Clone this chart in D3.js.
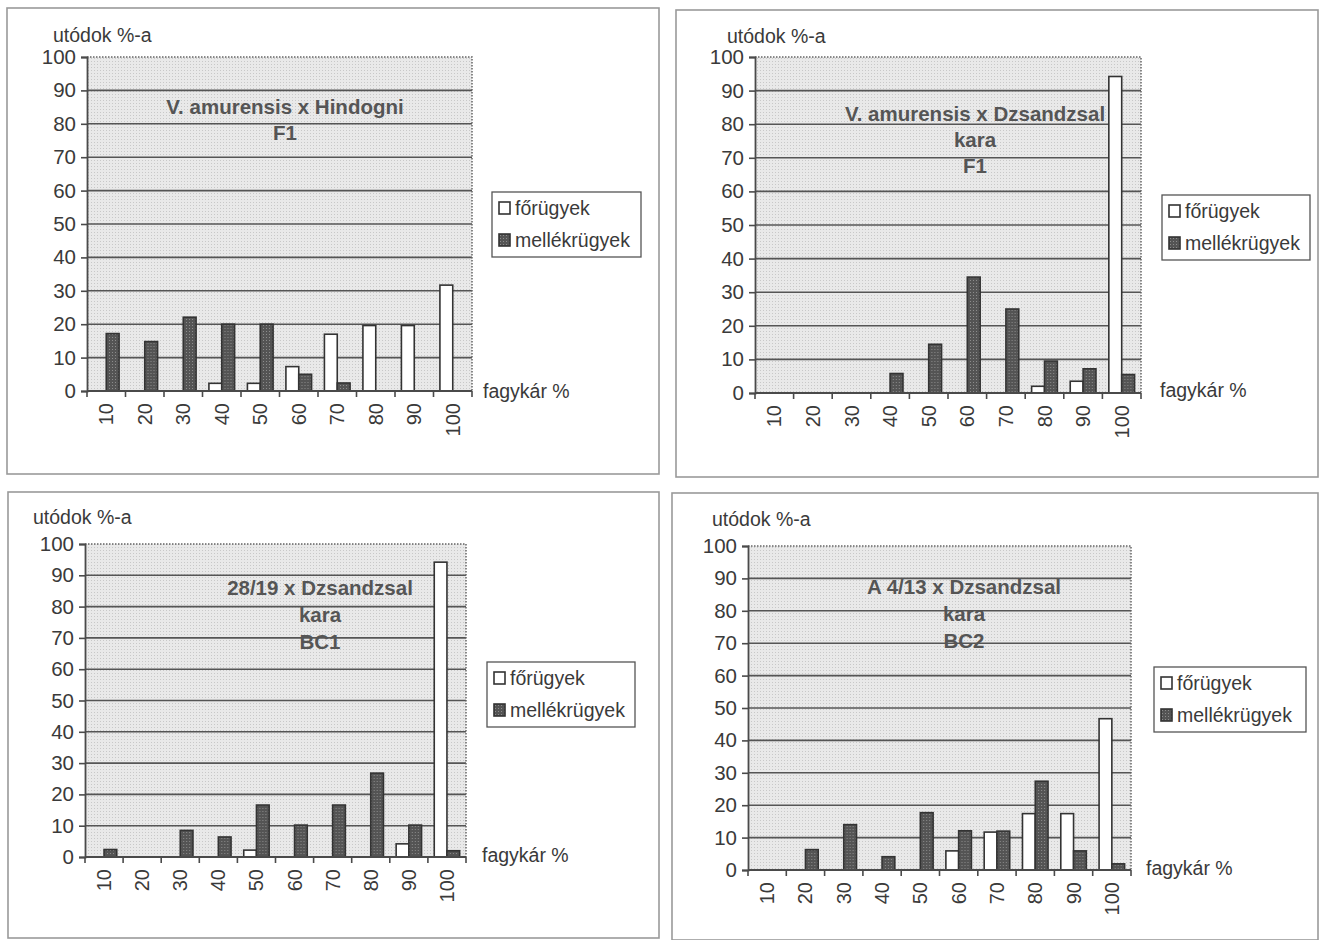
<!DOCTYPE html>
<html>
<head>
<meta charset="utf-8">
<script src="https://cdn.jsdelivr.net/npm/d3@7"></script>
<style>
  html, body { margin: 0; padding: 0; background: #fff; }
  svg { display: block; }
  text { font-family: "Liberation Sans", Arial, sans-serif; }
</style>
</head>
<body>
<svg id="chart" width="1331" height="940"></svg>
<script>
// ---------- DATA ----------
const categories = ["10", "20", "30", "40", "50", "60", "70", "80", "90", "100"];
const seriesNames = ["főrügyek", "mellékrügyek"];
const yTickValues = [0, 10, 20, 30, 40, 50, 60, 70, 80, 90, 100];
const yAxisTitle = "utódok %-a";
const xAxisTitle = "fagykár %";

const title1 = ["V. amurensis x Hindogni", "F1"];
const foP1 = [0, 0, 0, 2.3, 2.3, 7.3, 17, 19.6, 19.6, 31.7];
const melP1 = [17.2, 14.8, 22.1, 20, 20, 5, 2.4, 0, 0, 0];

const title2 = ["V. amurensis x Dzsandzsal", "kara", "F1"];
const foP2 = [0, 0, 0, 0, 0, 0, 0, 2, 3.5, 94.2];
const melP2 = [0, 0, 0, 5.8, 14.5, 34.5, 25, 9.5, 7.2, 5.5];

const title3 = ["28/19 x Dzsandzsal", "kara", "BC1"];
const foP3 = [0, 0, 0, 0, 2.2, 0, 0, 0, 4.2, 94.2];
const melP3 = [2.4, 0, 8.5, 6.4, 16.6, 10.2, 16.6, 26.8, 10.2, 2];

const title4 = ["A 4/13 x Dzsandzsal", "kara", "BC2"];
const foP4 = [0, 0, 0, 0, 0, 5.9, 11.7, 17.4, 17.4, 46.7];
const melP4 = [0, 6.3, 14, 4.1, 17.7, 12.1, 12, 27.4, 5.9, 1.9];

// ---------- LAYOUT (positions only) ----------
const panels = [
  { title: title1, fo: foP1, mel: melP1,
    frame: [7, 8, 659, 474], plot: [87, 57, 472, 391],
    yTitle: [53, 35], legend: [492, 192, 149, 65], xTitle: [483, 391], titleX: 285, titleY: 107, titleGap: 26 },
  { title: title2, fo: foP2, mel: melP2,
    frame: [676, 10, 1318, 477], plot: [755, 57, 1141, 393],
    yTitle: [727, 36], legend: [1162, 195, 148, 65], xTitle: [1160, 390], titleX: 975, titleY: 114, titleGap: 26 },
  { title: title3, fo: foP3, mel: melP3,
    frame: [8, 492, 659, 938], plot: [85, 544, 466, 857],
    yTitle: [33, 517], legend: [487, 662, 148, 65], xTitle: [482, 855], titleX: 320, titleY: 588, titleGap: 27 },
  { title: title4, fo: foP4, mel: melP4,
    frame: [672, 493, 1318, 940], plot: [748, 546, 1131, 870],
    yTitle: [712, 519], legend: [1154, 667, 152, 65], xTitle: [1146, 868], titleX: 964, titleY: 587, titleGap: 27 }
];

const FONT = 20;
const TEXT = "#3a3a3a";
const AX = "#4a4a4a";

const svg = d3.select("#chart");
const defs = svg.append("defs");

// textured plot background
const pBg = defs.append("pattern").attr("id", "bgdots").attr("patternUnits", "userSpaceOnUse")
  .attr("width", 3).attr("height", 3);
pBg.append("rect").attr("width", 3).attr("height", 3).attr("fill", "#e9e9e9");
pBg.append("rect").attr("x", 1).attr("y", 1).attr("width", 1).attr("height", 1).attr("fill", "#c8c8c8");

// textured dark bars
const pDark = defs.append("pattern").attr("id", "darkdots").attr("patternUnits", "userSpaceOnUse")
  .attr("width", 3).attr("height", 3);
pDark.append("rect").attr("width", 3).attr("height", 3).attr("fill", "#545454");
pDark.append("rect").attr("x", 1).attr("y", 1).attr("width", 1).attr("height", 1).attr("fill", "#8c8c8c");

const fills = { "főrügyek": "#ffffff", "mellékrügyek": "url(#darkdots)" };

panels.forEach(p => {
  const g = svg.append("g");
  const [fx0, fy0, fx1, fy1] = p.frame;
  const [px0, py0, px1, py1] = p.plot;

  // frame
  g.append("rect").attr("x", fx0).attr("y", fy0).attr("width", fx1 - fx0).attr("height", fy1 - fy0)
    .attr("fill", "none").attr("stroke", "#9a9a9a").attr("stroke-width", 1.6);

  const x = d3.scaleBand().domain(categories).range([px0, px1]).padding(0);
  const xs = d3.scaleBand().domain(seriesNames).range([0, x.bandwidth()]).paddingInner(0).paddingOuter(0.5);
  const y = d3.scaleLinear().domain([0, 100]).range([py1, py0]);

  // plot background
  g.append("rect").attr("x", px0).attr("y", py0).attr("width", px1 - px0).attr("height", py1 - py0)
    .attr("fill", "url(#bgdots)");

  // gridlines
  g.append("g").selectAll("line").data(yTickValues.filter(v => v > 0 && v < 100)).join("line")
    .attr("x1", px0).attr("x2", px1).attr("y1", d => y(d)).attr("y2", d => y(d))
    .attr("stroke", "#555").attr("stroke-width", 1.6);

  // dotted top/right border
  g.append("path")
    .attr("d", `M${px0},${y(100)}H${px1}V${py1}`)
    .attr("fill", "none").attr("stroke", "#666").attr("stroke-width", 1.5).attr("stroke-dasharray", "1.5,1.5");

  // bars
  const rows = categories.map((c, i) => ({ cat: c, vals: [
    { s: seriesNames[0], v: p.fo[i] }, { s: seriesNames[1], v: p.mel[i] }] }));
  const cg = g.append("g").selectAll("g").data(rows).join("g")
    .attr("transform", d => `translate(${x(d.cat)},0)`);
  cg.selectAll("rect").data(d => d.vals.filter(e => e.v > 0)).join("rect")
    .attr("x", d => xs(d.s)).attr("width", xs.bandwidth())
    .attr("y", d => y(d.v)).attr("height", d => y(0) - y(d.v))
    .attr("fill", d => fills[d.s]).attr("stroke", "#333").attr("stroke-width", 1.6);

  // y axis
  const yAxis = d3.axisLeft(y).tickValues(yTickValues).tickSize(6).tickPadding(5);
  const ya = g.append("g").attr("transform", `translate(${px0},0)`).call(yAxis);
  ya.select(".domain").attr("stroke", AX).attr("stroke-width", 1.8);
  ya.selectAll(".tick line").attr("stroke", AX).attr("stroke-width", 1.6);
  ya.selectAll(".tick text").attr("font-size", FONT + 0.5).attr("fill", TEXT)
    .attr("font-family", "'Liberation Sans', Arial, sans-serif");

  // x axis : ticks at category boundaries
  const xa = g.append("g");
  xa.append("line").attr("x1", px0).attr("x2", px1).attr("y1", py1).attr("y2", py1)
    .attr("stroke", AX).attr("stroke-width", 1.8);
  xa.selectAll("line.tk").data(categories.concat(["end"])).join("line").attr("class", "tk")
    .attr("x1", d => d === "end" ? px1 : x(d)).attr("x2", d => d === "end" ? px1 : x(d))
    .attr("y1", py1).attr("y2", py1 + 6).attr("stroke", AX).attr("stroke-width", 1.6);
  xa.selectAll("text").data(categories).join("text")
    .attr("transform", d => `translate(${x(d) + x.bandwidth() / 2},${py1 + 12}) rotate(-90)`)
    .attr("text-anchor", "end").attr("dy", "0.35em")
    .attr("font-size", FONT).attr("fill", TEXT).text(d => d);

  // axis titles
  g.append("text").attr("x", p.yTitle[0]).attr("y", p.yTitle[1]).attr("dy", "0.35em")
    .attr("font-size", 19.5).attr("fill", TEXT).text(yAxisTitle);
  g.append("text").attr("x", p.xTitle[0]).attr("y", p.xTitle[1]).attr("dy", "0.35em")
    .attr("font-size", 19.5).attr("fill", TEXT).text(xAxisTitle);

  // chart title
  g.append("g").selectAll("text").data(p.title).join("text")
    .attr("x", p.titleX).attr("y", (d, i) => p.titleY + i * p.titleGap).attr("dy", "0.35em")
    .attr("text-anchor", "middle").attr("font-size", 20.5).attr("font-weight", "bold")
    .attr("fill", "#555").text(d => d);

  // legend
  const [lx, ly, lw, lh] = p.legend;
  const lg = g.append("g");
  lg.append("rect").attr("x", lx).attr("y", ly).attr("width", lw).attr("height", lh)
    .attr("fill", "#fff").attr("stroke", "#555").attr("stroke-width", 1.3);
  const items = lg.selectAll("g").data(seriesNames).join("g")
    .attr("transform", (d, i) => `translate(${lx + 7},${ly + 16 + i * 32})`);
  items.append("rect").attr("x", 0).attr("y", -6).attr("width", 11).attr("height", 12)
    .attr("fill", d => fills[d]).attr("stroke", "#333").attr("stroke-width", 1.6);
  items.append("text").attr("x", 16).attr("y", 0).attr("dy", "0.35em")
    .attr("font-size", 19.5).attr("fill", TEXT).text(d => d);
});
</script>
</body>
</html>
